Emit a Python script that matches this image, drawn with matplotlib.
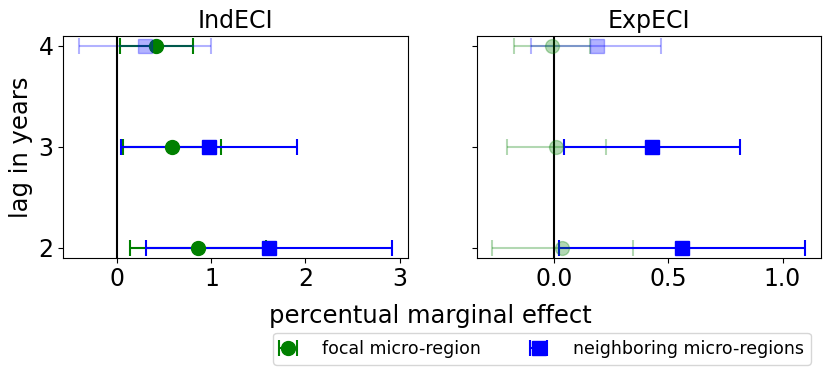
import matplotlib
matplotlib.use("Agg")
import matplotlib.pyplot as plt

lags = [2, 3, 4]

# IndECI panel
ind_focal = [0.855, 0.58, 0.41]
ind_focal_lo = [0.13, 0.056, 0.03]
ind_focal_hi = [1.58, 1.10, 0.80]
ind_neigh = [1.61, 0.975, 0.29]
ind_neigh_lo = [0.30, 0.04, -0.41]
ind_neigh_hi = [2.92, 1.915, 1.00]

# ExpECI panel
exp_focal = [0.037, 0.01, -0.007]
exp_focal_lo = [-0.27, -0.207, -0.175]
exp_focal_hi = [0.345, 0.23, 0.16]
exp_neigh = [0.562, 0.43, 0.187]
exp_neigh_lo = [0.022, 0.046, -0.10]
exp_neigh_hi = [1.10, 0.815, 0.47]

titles = ["IndECI", "ExpECI"]

fig, axes = plt.subplots(1, 2, figsize=(8.31, 3.74), dpi=100, sharey=True)
fig.subplots_adjust(left=0.076, right=0.988, top=0.904, bottom=0.311, wspace=0.2)


def plot_series(ax, vals, lo, hi, color, marker):
    handle = None
    for y, v, l, h in zip(lags, vals, lo, hi):
        # faded when the interval crosses zero
        alpha = 1.0 if (l > 0 or h < 0) else 0.3
        eb = ax.errorbar(v, y, xerr=[[v - l], [h - v]], fmt=marker, color=color,
                         ms=10, capsize=6, elinewidth=1.5, capthick=1.5, alpha=alpha)
        if alpha == 1.0 and handle is None:
            handle = eb
    return handle


panels = [
    (ind_focal, ind_focal_lo, ind_focal_hi, ind_neigh, ind_neigh_lo, ind_neigh_hi),
    (exp_focal, exp_focal_lo, exp_focal_hi, exp_neigh, exp_neigh_lo, exp_neigh_hi),
]

handles = []
for ax, title, (f, flo, fhi, n, nlo, nhi) in zip(axes, titles, panels):
    hf = plot_series(ax, f, flo, fhi, "green", "o")
    hn = plot_series(ax, n, nlo, nhi, "blue", "s")
    ax.axvline(0, color="black", lw=1.5)
    ax.set_title(title, fontsize=17, pad=5.5)
    ax.tick_params(labelsize=17)
    if hf is not None and hn is not None and not handles:
        handles = [hf, hn]

axes[0].set_yticks(lags)
axes[0].set_ylabel("lag in years", fontsize=17.5)
axes[1].set_xticks([0.0, 0.5, 1.0])

fig.text(0.518, 0.1356, "percentual marginal effect", ha="center", va="baseline", fontsize=17.5)
fig.legend(handles, ["focal micro-region", "neighboring micro-regions"],
           loc="upper center", bbox_to_anchor=(0.652, 0.133), ncol=2, fontsize=12.5,
           handlelength=0.9, handletextpad=1.5, columnspacing=2.9, borderpad=0.4)

fig.savefig("out.png", dpi=100)
